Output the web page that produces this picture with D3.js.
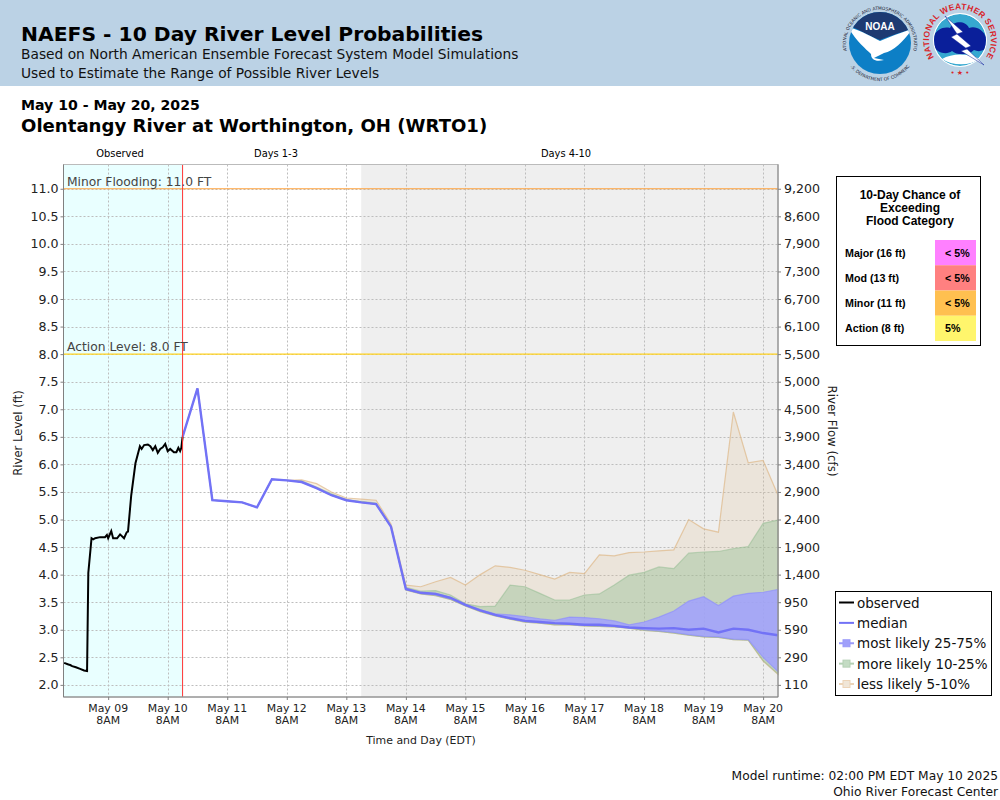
<!DOCTYPE html>
<html>
<head>
<meta charset="utf-8">
<script src="https://cdn.jsdelivr.net/npm/d3@7"></script>
<style>
	html, body { margin: 0; padding: 0; background: #fff; }
	svg { display: block; }
	text { font-family: "DejaVu Sans", sans-serif; }
</style>
</head>
<body>
<div id="chart"></div>
<script>
// hours after May 8 14:00 EDT
var obsHours = [0.25, 2, 2.7, 3.5, 5, 6.7, 8.3, 9.5, 10, 11.3, 12, 12.75, 14.75, 16.75, 17.5, 18, 19.25, 20, 21.6, 22.8, 24.4, 25.5, 26, 27.3, 29, 30.8, 31.5, 32.5, 34, 35, 36, 37, 38, 39, 40, 41, 42, 43, 44.5, 45.5, 46.3, 47, 47.5, 48];
var obsLevels = [2.40, 2.37, 2.36, 2.34, 2.32, 2.29, 2.26, 2.25, 4.03, 4.66, 4.64, 4.66, 4.68, 4.68, 4.72, 4.66, 4.79, 4.66, 4.66, 4.73, 4.66, 4.77, 4.78, 5.44, 6.02, 6.33, 6.28, 6.35, 6.36, 6.33, 6.26, 6.33, 6.21, 6.28, 6.31, 6.37, 6.24, 6.28, 6.22, 6.22, 6.30, 6.24, 6.30, 6.5];

// six hourly forecast values from May 10 14:00 to May 20 14:00
var median = [6.5, 7.38, 5.35, 5.33, 5.31, 5.22, 5.73, 5.71, 5.68, 5.57, 5.44, 5.35, 5.31, 5.28, 4.87, 3.74, 3.67, 3.65, 3.58, 3.45, 3.35, 3.27, 3.21, 3.16, 3.14, 3.12, 3.11, 3.09, 3.09, 3.07, 3.04, 3.03, 3.02, 3.03, 3.00, 3.02, 2.95, 3.02, 3.00, 2.94, 2.90];
var mostHigh = [6.5, 7.38, 5.35, 5.33, 5.31, 5.22, 5.73, 5.71, 5.68, 5.57, 5.44, 5.35, 5.31, 5.28, 4.87, 3.75, 3.68, 3.66, 3.59, 3.46, 3.36, 3.29, 3.27, 3.24, 3.20, 3.17, 3.23, 3.22, 3.20, 3.16, 3.09, 3.14, 3.23, 3.34, 3.52, 3.60, 3.44, 3.61, 3.66, 3.68, 3.73];
var mostLow = [6.5, 7.38, 5.35, 5.33, 5.31, 5.22, 5.73, 5.71, 5.68, 5.57, 5.44, 5.35, 5.31, 5.28, 4.87, 3.73, 3.66, 3.63, 3.56, 3.44, 3.34, 3.26, 3.20, 3.15, 3.13, 3.11, 3.10, 3.08, 3.07, 3.06, 3.04, 3.00, 2.98, 2.95, 2.91, 2.88, 2.87, 2.83, 2.82, 2.50, 2.24];
var moreHigh = [6.5, 7.38, 5.35, 5.33, 5.31, 5.22, 5.73, 5.71, 5.70, 5.59, 5.47, 5.36, 5.33, 5.30, 4.88, 3.77, 3.70, 3.71, 3.63, 3.47, 3.42, 3.43, 3.81, 3.78, 3.66, 3.54, 3.54, 3.63, 3.65, 3.81, 3.99, 4.04, 4.14, 4.11, 4.39, 4.41, 4.42, 4.47, 4.51, 4.93, 4.99];
var moreLow = [6.5, 7.38, 5.35, 5.33, 5.31, 5.22, 5.73, 5.71, 5.68, 5.57, 5.44, 5.35, 5.31, 5.28, 4.87, 3.72, 3.65, 3.62, 3.55, 3.43, 3.33, 3.25, 3.19, 3.14, 3.12, 3.09, 3.09, 3.07, 3.06, 3.05, 3.03, 2.99, 2.97, 2.94, 2.90, 2.87, 2.86, 2.82, 2.81, 2.44, 2.20];
var lessHigh = [6.5, 7.38, 5.35, 5.33, 5.31, 5.22, 5.73, 5.71, 5.72, 5.65, 5.50, 5.39, 5.37, 5.35, 4.92, 3.81, 3.78, 3.87, 3.95, 3.81, 4.00, 4.16, 4.13, 4.08, 4.00, 3.92, 4.04, 4.02, 4.36, 4.34, 4.40, 4.41, 4.43, 4.45, 5.00, 4.83, 4.77, 6.95, 6.03, 6.07, 5.44];
var lessLow = [6.5, 7.38, 5.35, 5.33, 5.31, 5.22, 5.73, 5.71, 5.68, 5.57, 5.44, 5.35, 5.31, 5.28, 4.87, 3.72, 3.65, 3.62, 3.55, 3.43, 3.33, 3.25, 3.19, 3.14, 3.12, 3.09, 3.09, 3.07, 3.06, 3.05, 3.03, 2.99, 2.97, 2.94, 2.90, 2.87, 2.86, 2.82, 2.81, 2.43, 2.19];

var levelTicks = [2, 2.5, 3, 3.5, 4, 4.5, 5, 5.5, 6, 6.5, 7, 7.5, 8, 8.5, 9, 9.5, 10, 10.5, 11];
var flowTicks = ["110", "290", "590", "950", "1,400", "1,900", "2,400", "2,900", "3,400", "3,900", "4,500", "5,000", "5,500", "6,100", "6,700", "7,300", "7,900", "8,600", "9,200"];
var dayLabels = ["May 09", "May 10", "May 11", "May 12", "May 13", "May 14", "May 15", "May 16", "May 17", "May 18", "May 19", "May 20"];

var floodNames = ["Major (16 ft)", "Mod (13 ft)", "Minor (11 ft)", "Action (8 ft)"];
var floodChance = ["< 5%", "< 5%", "< 5%", "5%"];
var floodColors = ["#ff80ff", "#ff8080", "#ffc050", "#fff56c"];

var legendLabels = ["observed", "median", "most likely 25-75%", "more likely 10-25%", "less likely 5-10%"];

var startTime = Date.UTC(2025, 4, 8, 14), nowTime = Date.UTC(2025, 4, 10, 14), midTime = Date.UTC(2025, 4, 13, 14), endTime = Date.UTC(2025, 4, 20, 14);
var forecastTimes = median.map(function(d, i) { return new Date(nowTime + i * 6 * 3600000); });
var dayTicks = dayLabels.map(function(d, i) { return new Date(Date.UTC(2025, 4, 9 + i, 8)); });

var plot = { left: 63.5, right: 778, top: 164.5, bottom: 697 };

var svg = d3.select("#chart").append("svg").attr("width", 1000).attr("height", 800);

var x = d3.scaleUtc().domain([new Date(startTime), new Date(endTime)]).range([plot.left, plot.right]);
var y = d3.scaleLinear().domain([1.78, 11.44]).range([plot.bottom, plot.top]);

drawHeader();
drawPlot();
drawFloodTable();
drawLegend();

function drawHeader() {
	svg.append("rect").attr("width", 1000).attr("height", 86).attr("fill", "#bbd2e5");
	svg.append("text").attr("x", 21).attr("y", 41).attr("font-size", "20.3px").attr("font-weight", "bold").text("NAEFS - 10 Day River Level Probabilities");
	svg.append("text").attr("x", 21).attr("y", 59).attr("font-size", "13.77px").attr("fill", "#111").text("Based on North American Ensemble Forecast System Model Simulations");
	svg.append("text").attr("x", 21).attr("y", 78).attr("font-size", "13.77px").attr("fill", "#111").text("Used to Estimate the Range of Possible River Levels");
	svg.append("text").attr("x", 21).attr("y", 110).attr("font-size", "14.1px").attr("font-weight", "bold").text("May 10 - May 20, 2025");
	svg.append("text").attr("x", 21).attr("y", 132).attr("font-size", "18.1px").attr("font-weight", "bold").text("Olentangy River at Worthington, OH (WRTO1)");

	drawNoaa(880, 43);
	drawNws(960, 40);

	svg.append("text").attr("x", 998).attr("y", 780).attr("text-anchor", "end").attr("font-size", "12.26px").attr("fill", "#111").text("Model runtime: 02:00 PM EDT May 10 2025");
	svg.append("text").attr("x", 998).attr("y", 796).attr("text-anchor", "end").attr("font-size", "12.26px").attr("fill", "#111").text("Ohio River Forecast Center");
}

function drawNoaa(cx, cy) {
	var g = svg.append("g").attr("transform", "translate(" + cx + "," + cy + ")");
	var defs = svg.append("defs");
	defs.append("clipPath").attr("id", "noaaClip").append("circle").attr("r", 31);
	defs.append("path").attr("id", "noaaTop").attr("d", "M-33,9 A34,34 0 1 1 33,9");
	defs.append("path").attr("id", "noaaBottom").attr("d", "M-30,23 A37.5,37.5 0 0 0 30,23");
	var inner = g.append("g").attr("clip-path", "url(#noaaClip)");
	inner.append("rect").attr("x", -32).attr("y", -32).attr("width", 64).attr("height", 64).attr("fill", "#0d7fc6");
	inner.append("path").attr("d", "M-32,-32 H32 V-14 C18,-10 8,-6 0,-3 C-8,-6 -18,-12 -32,-18 Z").attr("fill", "#1d3a72");
	inner.append("path").attr("d", "M-32,-16 C-18,-12 -8,-6 0,-2 C10,-6 20,-10 32,-14 C24,-2 14,8 4,10 L-6,15 L4,17 C-4,19 -9,17 -9,11 C-14,6 -24,-2 -32,-16 Z").attr("fill", "#fff");
	g.append("text").attr("y", -13).attr("text-anchor", "middle").attr("font-size", "10px").attr("font-weight", "bold").attr("fill", "#fff").style("font-family", "'Liberation Sans', sans-serif").text("NOAA");
	g.append("text").attr("font-size", "4.4px").attr("fill", "#223").append("textPath").attr("href", "#noaaTop").attr("startOffset", "50%").attr("text-anchor", "middle").text("NATIONAL OCEANIC AND ATMOSPHERIC ADMINISTRATION");
	g.append("text").attr("font-size", "4.4px").attr("fill", "#223").append("textPath").attr("href", "#noaaBottom").attr("startOffset", "50%").attr("text-anchor", "middle").text("U.S. DEPARTMENT OF COMMERCE");
}

function drawNws(cx, cy) {
	var g = svg.append("g").attr("transform", "translate(" + cx + "," + cy + ")");
	var defs = svg.append("defs");
	defs.append("clipPath").attr("id", "nwsClip").append("circle").attr("r", 26);
	defs.append("path").attr("id", "nwsTop").attr("d", "M-24,20 A31,31 0 1 1 24,20");
	g.append("circle").attr("r", 27).attr("fill", "#fff");
	var inner = g.append("g").attr("clip-path", "url(#nwsClip)");
	inner.append("circle").attr("r", 26).attr("fill", "#36a8d0");
	inner.append("path").attr("d", "M-27,2 C-27,-9 -18,-14 -10,-12 C-6,-20 6,-19 9,-12 C17,-15 26,-8 27,1 C29,10 20,13 14,10 C8,16 -4,15 -8,11 C-14,16 -27,12 -27,2 Z").attr("fill", "#0a1f9a");
	inner.append("path").attr("d", "M-18,19 C-8,13 8,13 20,19 C10,26 -8,26 -18,19 Z").attr("fill", "#fff");
	g.append("path").attr("d", "M-15,-24 L3,-8 L-3,-6 L11,6 L6,8 L24,25 L1,11 L7,9 L-9,-3 L-3,-6 Z").attr("fill", "#fff").attr("stroke", "#0a1f9a").attr("stroke-width", 0.5);
	g.append("text").attr("font-size", "8.4px").attr("font-weight", "bold").attr("fill", "#d8252b").style("font-family", "'Liberation Sans', sans-serif").append("textPath").attr("href", "#nwsTop").attr("startOffset", "50%").attr("text-anchor", "middle").attr("letter-spacing", "0.3").text("NATIONAL WEATHER SERVICE");
	g.append("text").attr("y", 35).attr("text-anchor", "middle").attr("font-size", "7px").attr("fill", "#d8252b").text("• ★ •");
}

function drawPlot() {
	var plotW = plot.right - plot.left, plotH = plot.bottom - plot.top;

	svg.append("rect").attr("x", plot.left).attr("y", plot.top).attr("width", plotW).attr("height", plotH).attr("fill", "#fff");
	svg.append("rect").attr("x", x(new Date(startTime))).attr("y", plot.top).attr("width", x(new Date(nowTime)) - x(new Date(startTime))).attr("height", plotH).attr("fill", "#e9ffff");
	svg.append("rect").attr("x", x(new Date(midTime))).attr("y", plot.top).attr("width", plot.right - x(new Date(midTime))).attr("height", plotH).attr("fill", "#efefef");

	// grid
	svg.append("g").selectAll("line").data(levelTicks).enter().append("line")
		.attr("x1", plot.left).attr("x2", plot.right)
		.attr("y1", function(d) { return Math.round(y(d)) + 0.5; }).attr("y2", function(d) { return Math.round(y(d)) + 0.5; })
		.attr("stroke", "#bdbdbd").attr("stroke-dasharray", "2,2");
	svg.append("g").selectAll("line").data(dayTicks).enter().append("line")
		.attr("y1", plot.top).attr("y2", plot.bottom)
		.attr("x1", function(d) { return Math.round(x(d)) + 0.5; }).attr("x2", function(d) { return Math.round(x(d)) + 0.5; })
		.attr("stroke", "#bdbdbd").attr("stroke-dasharray", "2,2");

	// probability bands
	drawBand(lessLow, lessHigh, "#deb887", 0.2, "#deb887", 0.7);
	drawBand(moreLow, moreHigh, "#8fbc8f", 0.4, "#8fbc8f", 0.5);
	drawBand(mostLow, mostHigh, "#a0a0ff", 0.85, "#8a8aff", 0.6);

	var line = d3.line().x(function(d) { return x(d.t); }).y(function(d) { return y(d.v); });

	svg.append("path").datum(obsHours.map(function(h, i) { return { t: new Date(startTime + h * 3600000), v: obsLevels[i] }; }))
		.attr("d", line).attr("fill", "none").attr("stroke", "#000").attr("stroke-width", 2);
	svg.append("path").datum(median.map(function(v, i) { return { t: forecastTimes[i], v: v }; }))
		.attr("d", line).attr("fill", "none").attr("stroke", "#7272f6").attr("stroke-width", 2.4);

	// flood levels and current time
	svg.append("line").attr("x1", plot.left).attr("x2", plot.right).attr("y1", y(11)).attr("y2", y(11)).attr("stroke", "#ffa23c").attr("stroke-width", 1.2);
	svg.append("line").attr("x1", plot.left).attr("x2", plot.right).attr("y1", y(8)).attr("y2", y(8)).attr("stroke", "#ffd21e").attr("stroke-width", 1.2);
	svg.append("line").attr("x1", x(new Date(nowTime))).attr("x2", x(new Date(nowTime))).attr("y1", plot.top).attr("y2", plot.bottom).attr("stroke", "#f33").attr("stroke-width", 1);
	svg.append("text").attr("x", 67).attr("y", y(11) - 2.5).attr("font-size", "12.3px").attr("fill", "#444").text("Minor Flooding: 11.0 FT");
	svg.append("text").attr("x", 67).attr("y", y(8) - 3).attr("font-size", "12.3px").attr("fill", "#444").text("Action Level: 8.0 FT");

	// frame
	svg.append("rect").attr("x", plot.left).attr("y", plot.top).attr("width", plotW).attr("height", plotH).attr("fill", "none").attr("stroke", "#bbb");
	svg.append("path").attr("d", "M" + plot.left + "," + plot.top + "V" + plot.bottom + "H" + plot.right + "V" + plot.top).attr("fill", "none").attr("stroke", "#808080");

	// axes
	var leftAxis = d3.axisLeft(y).tickValues(levelTicks).tickSize(3).tickPadding(2).tickFormat(d3.format(".1f"));
	var rightAxis = d3.axisRight(y).tickValues(levelTicks).tickSize(3).tickPadding(3).tickFormat(function(d, i) { return flowTicks[i]; });
	var bottomAxis = d3.axisBottom(x).tickValues(dayTicks).tickSize(3).tickFormat("");

	var axisL = svg.append("g").attr("transform", "translate(" + plot.left + ",0)").call(leftAxis);
	var axisR = svg.append("g").attr("transform", "translate(" + plot.right + ",0)").call(rightAxis);
	var axisB = svg.append("g").attr("transform", "translate(0," + plot.bottom + ")").call(bottomAxis);
	[axisL, axisR, axisB].forEach(function(a) {
		a.select(".domain").remove();
		a.selectAll(".tick line").attr("stroke", "#808080");
	});
	axisL.selectAll("text").attr("font-size", "12.6px").attr("font-family", "DejaVu Sans").attr("fill", "#222");
	axisR.selectAll("text").attr("font-size", "12.6px").attr("font-family", "DejaVu Sans").attr("fill", "#222");

	var dayText = svg.append("g").selectAll("text").data(dayTicks).enter().append("text")
		.attr("text-anchor", "middle").attr("font-size", "10.9px").attr("fill", "#222");
	dayText.append("tspan").attr("x", function(d) { return x(d); }).attr("y", 712).text(function(d, i) { return dayLabels[i]; });
	dayText.append("tspan").attr("x", function(d) { return x(d); }).attr("y", 724).text("8AM");

	svg.append("text").attr("x", 421).attr("y", 744).attr("text-anchor", "middle").attr("font-size", "10.9px").attr("fill", "#222").text("Time and Day (EDT)");
	svg.append("text").attr("transform", "translate(21.5,433) rotate(-90)").attr("text-anchor", "middle").attr("font-size", "11.6px").attr("fill", "#222").text("River Level (ft)");
	svg.append("text").attr("transform", "translate(827.5,431) rotate(90)").attr("text-anchor", "middle").attr("font-size", "11.8px").attr("fill", "#222").text("River Flow (cfs)");

	svg.append("text").attr("x", 120).attr("y", 157).attr("text-anchor", "middle").attr("font-size", "9.9px").text("Observed");
	svg.append("text").attr("x", 276).attr("y", 157).attr("text-anchor", "middle").attr("font-size", "9.9px").text("Days 1-3");
	svg.append("text").attr("x", 566).attr("y", 157).attr("text-anchor", "middle").attr("font-size", "9.9px").text("Days 4-10");
}

function drawBand(lows, highs, color, fillAlpha, strokeColor, strokeAlpha) {
	var area = d3.area().x(function(d, i) { return x(forecastTimes[i]); })
		.y0(function(d, i) { return y(lows[i]); }).y1(function(d) { return y(d); });
	svg.append("path").datum(highs).attr("d", area).attr("fill", color).attr("fill-opacity", fillAlpha)
		.attr("stroke", strokeColor).attr("stroke-opacity", strokeAlpha).attr("stroke-width", 1.2);
}

function drawFloodTable() {
	var g = svg.append("g").style("font-family", "'Liberation Sans', sans-serif");
	g.append("rect").attr("x", 836.5).attr("y", 176.5).attr("width", 144).attr("height", 169).attr("fill", "#fff").attr("stroke", "#000");
	var title = ["10-Day Chance of", "Exceeding", "Flood Category"];
	g.selectAll("text.title").data(title).enter().append("text").attr("class", "title")
		.attr("x", 910).attr("y", function(d, i) { return 199 + i * 13; })
		.attr("text-anchor", "middle").attr("font-size", "12px").attr("font-weight", "bold")
		.style("font-family", "'Liberation Sans', sans-serif").text(function(d) { return d; });

	var rows = d3.scaleBand().domain(floodNames).range([240, 341]);
	floodNames.forEach(function(name, i) {
		g.append("rect").attr("x", 935).attr("y", rows(name)).attr("width", 41).attr("height", rows.bandwidth()).attr("fill", floodColors[i]);
		g.append("text").attr("x", 845).attr("y", rows(name) + rows.bandwidth() / 2 + 4).attr("font-size", "10.7px").attr("font-weight", "bold")
			.style("font-family", "'Liberation Sans', sans-serif").text(name);
		g.append("text").attr("x", 945).attr("y", rows(name) + rows.bandwidth() / 2 + 4).attr("font-size", "10.7px").attr("font-weight", "bold")
			.style("font-family", "'Liberation Sans', sans-serif").text(floodChance[i]);
	});
}

function drawLegend() {
	var g = svg.append("g");
	g.append("rect").attr("x", 835.5).attr("y", 591.5).attr("width", 156).attr("height", 104).attr("fill", "#fff").attr("stroke", "#000");
	var rows = d3.scalePoint().domain(legendLabels).range([602.5, 684]);
	var lineColors = ["#000", "#7272f6", "#9a9afa", "#b4d0b4", "#ecd4b8"];
	var boxColors = [null, null, "#a0a0fa", "#c4dcc4", "#f0e6d8"];
	legendLabels.forEach(function(label, i) {
		var yy = rows(label);
		g.append("line").attr("x1", 839).attr("x2", 854).attr("y1", yy).attr("y2", yy).attr("stroke", lineColors[i]).attr("stroke-width", 2);
		if (boxColors[i]) {
			g.append("rect").attr("x", 843).attr("y", yy - 3.5).attr("width", 7).attr("height", 7).attr("fill", boxColors[i]).attr("stroke", lineColors[i]);
		}
		g.append("text").attr("x", 857).attr("y", yy + 5).attr("font-size", "13.5px").attr("fill", "#111").text(label);
	});
}
</script>
</body>
</html>
